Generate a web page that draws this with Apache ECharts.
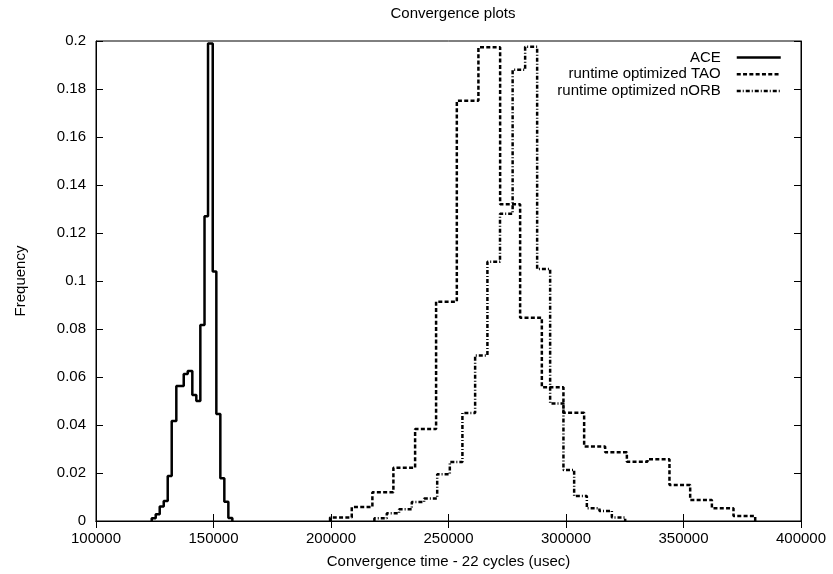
<!DOCTYPE html>
<html>
<head>
<meta charset="utf-8">
<script src="https://cdn.jsdelivr.net/npm/echarts@6/dist/echarts.min.js"></script>
<style>html,body{margin:0;padding:0;background:#fff}#c{width:833px;height:574px}</style>
</head>
<body>
<div id="c"></div>
<script>
// Bin edges (left edge of each step) and frequencies; last edge closes the histogram
var aceEdges = [123710,125410,127115,128820,130520,132220,134180,137330,139030,140990,142690,144400,146180,147670,149670,151210,152910,154610,156320,158020];
var aceFreq  = [0.0011,0.0028,0.006,0.0083,0.0188,0.0417,0.0563,0.0613,0.0625,0.0525,0.05,0.0817,0.127,0.199,0.104,0.0446,0.0178,0.008,0.0012];

var taoEdges = [199600,208840,217610,226550,235790,244720,253540,262730,271970,280480,289720,298910,307720,316660,325900,334670,344030,352840,362080,371270,380510];
var taoFreq  = [0.0015,0.0058,0.012,0.0222,0.0383,0.0914,0.1751,0.1974,0.132,0.0847,0.0557,0.0451,0.031,0.0286,0.0247,0.0257,0.015,0.0088,0.0053,0.0021];

var norbEdges = [218460,223740,228970,234380,239620,245190,250560,255920,261330,266560,271920,277290,282610,287720,293250,298910,303470,308870,314240,319510,325180];
var norbFreq  = [0.0011,0.0032,0.0049,0.0079,0.0094,0.0195,0.0246,0.045,0.069,0.108,0.128,0.188,0.1976,0.105,0.049,0.0213,0.0104,0.0053,0.0042,0.0015];

var seriesNames = ['ACE','runtime optimized TAO','runtime optimized nORB'];
var titleText = 'Convergence plots';
var xName = 'Convergence time - 22 cycles (usec)';
var yName = 'Frequency';

function steps(edges, freq) {
  var d = [[edges[0], 0]];
  for (var i = 0; i < freq.length; i++) d.push([edges[i], freq[i]]);
  d.push([edges[edges.length - 1], 0]);
  return d;
}

var FONT = '"Liberation Sans", Arial, Helvetica, sans-serif';
var chart = echarts.init(document.getElementById('c'), null, {renderer: 'canvas'});
var tickCommon = {inside: true, length: 7, lineStyle: {color: '#000', width: 1}};
chart.setOption({
  animation: false,
  backgroundColor: '#fff',
  textStyle: {fontFamily: FONT},
  title: {
    text: titleText, left: 448, top: 1, textAlign: 'center',
    textStyle: {fontFamily: FONT, fontSize: 15, fontWeight: 'normal', color: '#000'}
  },
  legend: {
    orient: 'vertical', right: 46, top: 45, align: 'right',
    itemWidth: 44, itemHeight: 14, itemGap: 1.8,
    data: seriesNames,
    itemStyle: {opacity: 0},
    lineStyle: {width: 2.5},
    textStyle: {fontFamily: FONT, fontSize: 15, lineHeight: 14, color: '#000', padding: [0, 11, 0, 0]}
  },
  grid: {left: 96, right: 32, top: 41, bottom: 53, show: true, borderColor: '#000', borderWidth: 1},
  xAxis: [{
    type: 'value', min: 100000, max: 400000, interval: 50000,
    name: xName, nameLocation: 'middle', nameGap: 33,
    nameTextStyle: {fontFamily: FONT, fontSize: 15, color: '#000'},
    axisLine: {show: true, lineStyle: {color: '#000', width: 1}},
    axisTick: tickCommon,
    axisLabel: {fontFamily: FONT, fontSize: 15, color: '#000', margin: 10,
      formatter: function (v) { return String(Math.round(v)); }},
    splitLine: {show: false}
  }, {
    type: 'value', min: 100000, max: 400000, interval: 50000, position: 'top',
    axisLine: {show: true, lineStyle: {color: '#000', width: 1}},
    axisTick: tickCommon, axisLabel: {show: false}, splitLine: {show: false}
  }],
  yAxis: [{
    type: 'value', min: 0, max: 0.2, interval: 0.02,
    name: yName, nameLocation: 'middle', nameGap: 68, nameRotate: 90,
    nameTextStyle: {fontFamily: FONT, fontSize: 15, color: '#000'},
    axisLine: {show: true, lineStyle: {color: '#000', width: 1}},
    axisTick: tickCommon,
    axisLabel: {fontFamily: FONT, fontSize: 15, color: '#000', margin: 10,
      formatter: function (v) { return String(+v.toFixed(2)); }},
    splitLine: {show: false}
  }, {
    type: 'value', min: 0, max: 0.2, interval: 0.02, position: 'right',
    axisLine: {show: true, lineStyle: {color: '#000', width: 1}},
    axisTick: tickCommon, axisLabel: {show: false}, splitLine: {show: false}
  }],
  series: [
    {name: seriesNames[0], type: 'line', step: 'end', symbol: 'none', data: steps(aceEdges, aceFreq),
     itemStyle: {color: '#000'}, lineStyle: {color: '#000', width: 2.5, type: 'solid'}},
    {name: seriesNames[1], type: 'line', step: 'end', symbol: 'none', data: steps(taoEdges, taoFreq),
     itemStyle: {color: '#000'}, lineStyle: {color: '#000', width: 2.5, type: [4, 2.3]}},
    {name: seriesNames[2], type: 'line', step: 'end', symbol: 'none', data: steps(norbEdges, norbFreq),
     itemStyle: {color: '#000'}, lineStyle: {color: '#000', width: 2.5, type: [4, 2, 1, 2]}}
  ]
});
</script>
</body>
</html>
